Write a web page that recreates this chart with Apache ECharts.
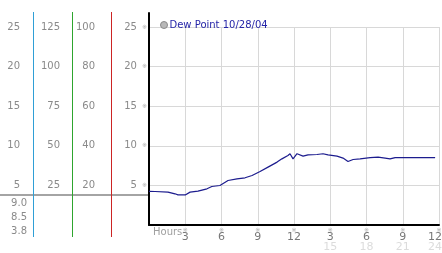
<!DOCTYPE html>
<html>
<head>
<meta charset="utf-8">
<script src="https://cdn.jsdelivr.net/npm/echarts@6/dist/echarts.min.js"></script>
<style>html,body{margin:0;padding:0;background:#fff}#c{width:442px;height:253px}</style>
</head>
<body>
<div id="c"></div>
<script>
// ---- data ----
var seriesName = 'Dew Point 10/28/04';
var hours = [0, 0.5, 1.57, 2.15, 2.4, 3.0, 3.4, 4.05, 4.8, 5.2, 5.87, 6.54, 7.28, 7.95, 8.53, 9.19, 9.85, 10.6, 11.0, 11.5, 11.67, 11.92, 12.25, 12.75, 13.16, 13.9, 14.4, 14.82, 15.56, 16.06, 16.47, 16.89, 17.47, 17.63, 18.3, 18.46, 18.96, 19.54, 19.95, 20.37, 20.53, 20.78, 23.68];
var dewPoint = [4.25, 4.23, 4.15, 3.94, 3.81, 3.8, 4.15, 4.28, 4.57, 4.86, 4.99, 5.62, 5.83, 5.96, 6.25, 6.75, 7.31, 7.94, 8.35, 8.77, 8.99, 8.35, 9.0, 8.7, 8.86, 8.9, 9.0, 8.85, 8.7, 8.45, 8.02, 8.27, 8.35, 8.48, 8.5, 8.7, 8.57, 8.45, 8.35, 8.5, 8.25, 8.52, 8.5];
var statLabels = ['9.0', '8.5', '3.8'];   // max, current, min
var minValue = 3.8;
var scaleMax = [25, 125, 100];            // left-side scales (cyan, green, red columns)
var scaleInterval = [5, 25, 20];
var scaleColors = ['#2f9fd6', '#2ea52e', '#cc2424'];
var mainMax = 25, mainInterval = 5;
var hourMax = 24, hourInterval = 3;
var axisName = 'Hours';

var F = 'DejaVu Sans';
var chart = echarts.init(document.getElementById('c'));
var data = hours.map(function (h, i) { return [h, dewPoint[i]]; });

function colLabel(v) { return v === 0 ? '' : String(v); }
function G(o) { o.outerBoundsMode = 'none'; o.containLabel = false; return o; }

var lineX = [33.5, 72.5, 111.5];   // x of the coloured scale rules

var option = {
  animation: false,
  backgroundColor: '#fff',
  textStyle: { fontFamily: F },
  legend: {
    left: 155, top: 15, icon: 'circle', itemWidth: 7, itemHeight: 7,
    textStyle: { fontFamily: F, fontSize: 10, color: '#2424a8', padding: [0, 0, 0, -3] },
    data: [{ name: seriesName, itemStyle: { color: '#b8b8b8', borderColor: '#8a8a8a', borderWidth: 1 } }]
  },
  grid: [
    G({ left: 149, right: 3, top: 27, bottom: 28 }),   // 0 main plot
    G({ left: 149, right: 3, top: 13, bottom: 28 }),   // 1 black left axis line
    G({ left: 0, width: 148, top: 27, bottom: 28 })    // 2 gray min marker
  ],
  xAxis: [
    {
      gridIndex: 0, type: 'value', min: 0, max: hourMax, interval: hourInterval,
      axisLine: { show: true, lineStyle: { color: '#000', width: 2 } },
      axisTick: { show: false },
      splitLine: { show: true, lineStyle: { color: '#d8d8d8', width: 1 } },
      axisLabel: {
        margin: 2, fontFamily: F, hideOverlap: false,
        formatter: function (v) {
          if (v === 0) return '';
          var top = v > 12 ? v - 12 : v;
          var last = v === hourMax ? 'e' : '';
          var s = '{m|※}\n{v' + last + '|' + top + '}';
          if (v > 12) s += '\n{f' + last + '|' + v + '}';
          return s;
        },
        rich: {
          m: { fontFamily: F, fontSize: 6, color: '#aaa', lineHeight: 6 },
          v: { fontFamily: F, fontSize: 11, color: '#777', lineHeight: 9 },
          f: { fontFamily: F, fontSize: 11, color: '#dcdcdc', lineHeight: 11 },
          ve: { fontFamily: F, fontSize: 11, color: '#777', lineHeight: 9, padding: [0, 8, 0, 0] },
          fe: { fontFamily: F, fontSize: 11, color: '#dcdcdc', lineHeight: 11, padding: [0, 8, 0, 0] }
        }
      }
    },
    { gridIndex: 1, type: 'value', min: 0, max: 1, show: false },
    { gridIndex: 2, type: 'value', min: 0, max: 1, show: false }
  ],
  yAxis: [
    {
      gridIndex: 0, type: 'value', min: 0, max: mainMax, interval: mainInterval,
      axisLine: { show: false }, axisTick: { show: false },
      splitLine: { show: true, lineStyle: { color: '#d8d8d8', width: 1 } },
      axisLabel: {
        margin: 2, fontFamily: F,
        formatter: function (v) { return v === 0 ? '' : '{v|' + v + '}{m|※}'; },
        rich: {
          v: { fontFamily: F, fontSize: 10, color: '#8a8a8a' },
          m: { fontFamily: F, fontSize: 6, color: '#aaa', padding: [0, 0, 0, 5] }
        }
      }
    },
    {
      gridIndex: 0, type: 'value', position: 'left', offset: 38, min: 0, max: scaleMax[2], interval: scaleInterval[2],
      axisLine: { show: false }, axisTick: { show: false }, splitLine: { show: false },
      axisLabel: { margin: 16, fontFamily: F, fontSize: 10, color: '#8a8a8a', formatter: colLabel }
    },
    {
      gridIndex: 0, type: 'value', position: 'left', offset: 77, min: 0, max: scaleMax[1], interval: scaleInterval[1],
      axisLine: { show: false }, axisTick: { show: false }, splitLine: { show: false },
      axisLabel: { margin: 12, fontFamily: F, fontSize: 10, color: '#8a8a8a', formatter: colLabel }
    },
    {
      gridIndex: 0, type: 'value', position: 'left', offset: 116, min: 0, max: scaleMax[0], interval: scaleInterval[0],
      axisLine: { show: false }, axisTick: { show: false }, splitLine: { show: false },
      axisLabel: { margin: 13, fontFamily: F, fontSize: 10, color: '#8a8a8a', formatter: colLabel }
    },
    { gridIndex: 1, type: 'value', position: 'left', min: 0, max: 1,
      axisLine: { show: true, onZero: false, lineStyle: { color: '#000', width: 2 } }, axisTick: { show: false }, axisLabel: { show: false }, splitLine: { show: false } },
    { gridIndex: 2, type: 'value', min: 0, max: mainMax, show: false }
  ],
  series: [
    {
      name: seriesName, type: 'line', xAxisIndex: 0, yAxisIndex: 0, data: data,
      showSymbol: false, symbol: 'none',
      lineStyle: { color: '#1c1c8e', width: 1.2 },
      itemStyle: { color: '#b8b8b8' },
      z: 5
    },
    {
      name: 'min', type: 'line', xAxisIndex: 2, yAxisIndex: 5,
      data: [[0, minValue], [1, minValue]],
      showSymbol: false, symbol: 'none',
      lineStyle: { color: '#a4a4a4', width: 2 }, z: 1
    }
  ],
  graphic: statLabels.map(function (t, i) {
    return {
      type: 'text', right: 442 - 27, top: 198 + i * 14,
      style: { text: t, fill: '#8a8a8a', font: '10px "DejaVu Sans"', textAlign: 'right' }
    };
  }).concat(lineX.map(function (x, i) {
    return {
      type: 'line', z: 10,
      shape: { x1: x, y1: 12, x2: x, y2: 237 },
      style: { stroke: scaleColors[i], lineWidth: 1 }
    };
  })).concat([{
    type: 'text', left: 153, top: 227,
    style: { text: axisName, fill: '#a0a0a0', font: '10px "DejaVu Sans"' }
  }])
};
chart.setOption(option);
</script>
</body>
</html>
